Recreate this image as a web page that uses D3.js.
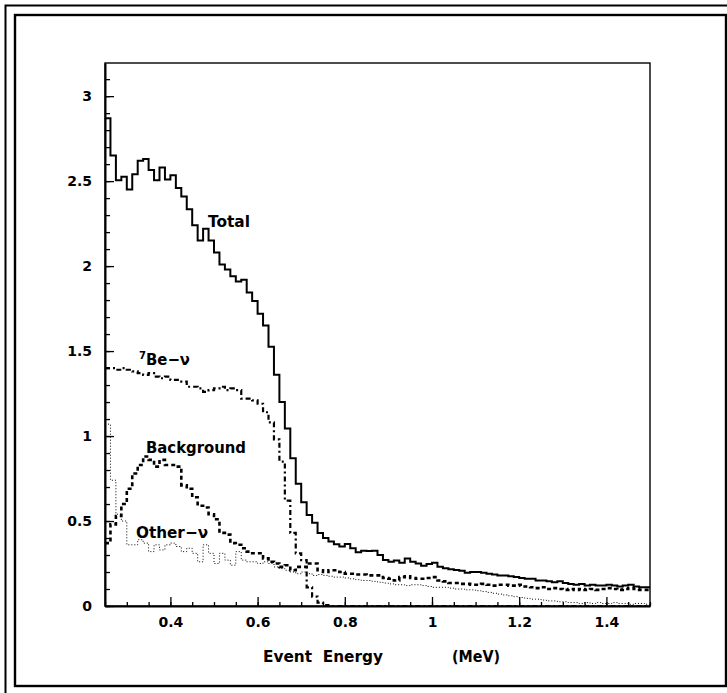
<!DOCTYPE html>
<html><head><meta charset="utf-8">
<script src="https://cdn.jsdelivr.net/npm/d3@7"></script>
<style>
html,body{margin:0;padding:0;background:#fff;}
svg{display:block;}
text{font-family:"DejaVu Sans",sans-serif;font-weight:bold;fill:#000;}
</style></head>
<body>
<script>
// ---- data (100 bins of 0.0125 MeV from 0.25 to 1.5 MeV) ----
const binStart = 0.25, binWidth = 0.0125;
const totalVals = [
2.87,2.65,2.505,2.525,2.45,2.54,2.62,2.63,2.565,2.505,
2.58,2.51,2.535,2.46,2.41,2.335,2.24,2.15,2.22,2.15,
2.08,2.01,1.98,1.94,1.91,1.92,1.845,1.795,1.72,1.65,
1.525,1.36,1.20,1.045,0.87,0.72,0.61,0.535,0.49,0.43,
0.40,0.38,0.363,0.35,0.365,0.34,0.316,0.325,0.323,0.325,
0.30,0.27,0.26,0.267,0.255,0.28,0.26,0.25,0.237,0.247,
0.255,0.231,0.222,0.216,0.212,0.208,0.196,0.20,0.20,0.195,
0.19,0.185,0.18,0.18,0.175,0.17,0.165,0.16,0.16,0.15,
0.15,0.145,0.14,0.145,0.135,0.13,0.125,0.13,0.12,0.125,
0.12,0.12,0.125,0.12,0.115,0.12,0.125,0.115,0.11,0.11];
const be7Vals = [
1.40,1.40,1.39,1.40,1.39,1.38,1.37,1.36,1.37,1.35,
1.34,1.35,1.33,1.33,1.32,1.29,1.29,1.28,1.26,1.27,
1.28,1.29,1.27,1.28,1.27,1.22,1.22,1.21,1.19,1.14,
1.08,0.98,0.85,0.62,0.43,0.31,0.27,0.11,0.055,0.02,
0.005,0,0,0,0,0,0,0,0,0,
0,0,0,0,0,0,0,0,0,0,
0,0,0,0,0,0,0,0,0,0,
0,0,0,0,0,0,0,0,0,0,
0,0,0,0,0,0,0,0,0,0,
0,0,0,0,0,0,0,0,0,0];
const bgVals = [
0.37,0.48,0.53,0.60,0.69,0.78,0.83,0.88,0.86,0.82,
0.86,0.83,0.83,0.82,0.71,0.69,0.64,0.59,0.58,0.54,
0.51,0.43,0.42,0.37,0.36,0.34,0.32,0.31,0.31,0.28,
0.26,0.25,0.23,0.24,0.21,0.23,0.23,0.25,0.25,0.21,
0.20,0.21,0.21,0.20,0.19,0.19,0.185,0.185,0.18,0.18,
0.18,0.165,0.16,0.15,0.17,0.175,0.165,0.16,0.16,0.165,
0.17,0.15,0.145,0.135,0.135,0.13,0.13,0.125,0.125,0.13,
0.125,0.12,0.125,0.125,0.12,0.12,0.125,0.115,0.11,0.105,
0.11,0.10,0.105,0.10,0.095,0.10,0.095,0.10,0.095,0.10,
0.095,0.10,0.105,0.10,0.095,0.10,0.105,0.10,0.095,0.095];
const otherVals = [
1.07,0.74,0.54,0.50,0.36,0.36,0.39,0.37,0.32,0.36,
0.33,0.36,0.37,0.35,0.32,0.34,0.31,0.26,0.36,0.31,
0.25,0.31,0.27,0.24,0.32,0.27,0.26,0.26,0.25,0.26,
0.25,0.23,0.22,0.21,0.20,0.19,0.20,0.19,0.18,0.185,
0.18,0.175,0.17,0.17,0.165,0.16,0.155,0.15,0.15,0.145,
0.14,0.135,0.13,0.125,0.125,0.12,0.125,0.125,0.12,0.115,
0.11,0.11,0.11,0.105,0.10,0.10,0.095,0.095,0.09,0.085,
0.08,0.075,0.07,0.065,0.06,0.055,0.05,0.045,0.04,0.04,
0.035,0.03,0.03,0.025,0.025,0.02,0.02,0.015,0.02,0.015,
0.02,0.015,0.015,0.02,0.015,0.015,0.01,0.015,0.015,0.01];
const xMajorTicks = [0.4,0.6,0.8,1.0,1.2,1.4];
const xTickLabels = ["0.4","0.6","0.8","1","1.2","1.4"];
const yMajorTicks = [0,0.5,1,1.5,2,2.5,3];
const yTickLabels = ["0","0.5","1","1.5","2","2.5","3"];
const seriesLabels = ["Total","Be\u2212\u03BD","Background","Other\u2212\u03BD"];
const xTitle = "Event  Energy", xUnit = "(MeV)";

// ---- layout ----
const W = 727, H = 693;
const L = 105, R = 650, T = 63, B = 606;
const svg = d3.select("body").append("svg").attr("width", W).attr("height", H);

// frames
svg.append("rect").attr("x",5.5).attr("y",5.5).attr("width",W+10).attr("height",H+10)
  .attr("fill","none").attr("stroke","#000").attr("stroke-width",2);
svg.append("rect").attr("x",15).attr("y",15).attr("width",711).attr("height",671)
  .attr("fill","none").attr("stroke","#000").attr("stroke-width",2.4);

const x = d3.scaleLinear().domain([0.25,1.5]).range([L,R]);
const y = d3.scaleLinear().domain([0,3.195]).range([B,T]);

// plot frame
svg.append("rect").attr("x",L).attr("y",T).attr("width",R-L).attr("height",B-T)
  .attr("fill","none").attr("stroke","#000").attr("stroke-width",1.4);

// axes
const gx = svg.append("g").attr("transform",`translate(0,${B})`);
gx.call(d3.axisBottom(x).tickValues(d3.range(0.25,1.5001,0.05)).tickSize(-4).tickSizeOuter(0).tickFormat(""));
gx.call(g=>g.select(".domain").remove());
const gx2 = svg.append("g").attr("transform",`translate(0,${B})`);
gx2.call(d3.axisBottom(x).tickValues(xMajorTicks).tickSize(-9).tickSizeOuter(0).tickPadding(11)
  .tickFormat((d,i)=>xTickLabels[i]));
gx2.select(".domain").attr("stroke-width",2);
gx2.selectAll("text").style("font-size","14px").style("font-family","DejaVu Sans").style("font-weight","bold");

const gy = svg.append("g").attr("transform",`translate(${L},0)`);
gy.call(d3.axisLeft(y).tickValues(d3.range(0,3.15,0.1)).tickSize(-5).tickSizeOuter(0).tickFormat(""));
gy.call(g=>g.select(".domain").remove());
const gy2 = svg.append("g").attr("transform",`translate(${L},0)`);
gy2.call(d3.axisLeft(y).tickValues(yMajorTicks).tickSize(-9).tickSizeOuter(0).tickPadding(13)
  .tickFormat((d,i)=>yTickLabels[i]));
gy2.select(".domain").attr("stroke-width",2);
gy2.selectAll("text").style("font-size","14px").style("font-family","DejaVu Sans").style("font-weight","bold");
svg.selectAll(".tick line").attr("stroke","#000").attr("stroke-width",1.3);

// histograms
function histPts(vals){
  const pts = vals.map((v,i)=>[binStart+i*binWidth, v]);
  pts.push([binStart+vals.length*binWidth, vals[vals.length-1]]);
  return pts;
}
const line = d3.line().x(d=>x(d[0])).y(d=>y(d[1])).curve(d3.curveStepAfter);
const plot = svg.append("g");
plot.append("path").datum(histPts(otherVals)).attr("d",line)
  .attr("fill","none").attr("stroke","#000").attr("stroke-width",1).attr("stroke-dasharray","1,2");
plot.append("path").datum(histPts(bgVals)).attr("d",line)
  .attr("fill","none").attr("stroke","#000").attr("stroke-width",2.6).attr("stroke-dasharray","4,3");
plot.append("path").datum(histPts(be7Vals)).attr("d",line)
  .attr("fill","none").attr("stroke","#000").attr("stroke-width",2.2).attr("stroke-dasharray","5,3,2,3");
plot.append("path").datum(histPts(totalVals)).attr("d",line)
  .attr("fill","none").attr("stroke","#000").attr("stroke-width",2);

// labels
function lab(t, xp, yp, len){
  return svg.append("text").attr("x",xp).attr("y",yp).style("font-size","16px")
    .attr("textLength",len).attr("lengthAdjust","spacingAndGlyphs").text(t);
}
lab(seriesLabels[0],208,227,42);
svg.append("text").attr("x",139).attr("y",359).style("font-size","10px").text("7");
lab(seriesLabels[1],146,365,44);
lab(seriesLabels[2],146,453,100);
lab(seriesLabels[3],136,538,72);
svg.append("text").attr("x",263).attr("y",662).style("font-size","16px").attr("xml:space","preserve")
  .attr("textLength",120).attr("lengthAdjust","spacingAndGlyphs").text(xTitle);
lab(xUnit,452,662,48);
</script>
</body></html>
